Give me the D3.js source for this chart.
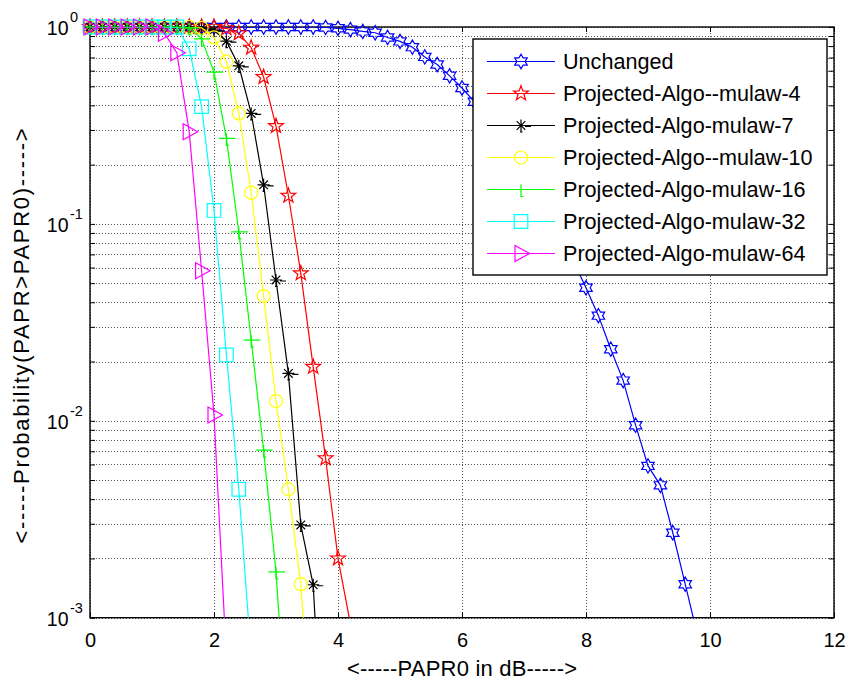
<!DOCTYPE html>
<html>
<head>
<meta charset="utf-8">
<script src="https://cdn.jsdelivr.net/npm/d3@7"></script>
<style>
  body { margin: 0; background: #fff; }
  svg { display: block; font-family: Arial, "Liberation Sans", sans-serif; }
</style>
</head>
<body>
<svg id="chart" width="850" height="680"></svg>
<script>
// PAPR0 sample points (dB)
const papr0 = [0, 0.2, 0.4, 0.6, 0.8, 1.0, 1.2, 1.4, 1.6, 1.8,
               2.0, 2.2, 2.4, 2.6, 2.8, 3.0, 3.2, 3.4, 3.6, 3.8,
               4.0, 4.2, 4.4, 4.6, 4.8, 5.0, 5.2, 5.4, 5.6, 5.8,
               6.0, 6.2, 6.4, 6.6, 6.8, 7.0, 7.2, 7.4, 7.6, 7.8,
               8.0, 8.2, 8.4, 8.6, 8.8, 9.0, 9.2, 9.4, 9.6, 9.8];

// CCDF of PAPR, one array per curve (values start at PAPR0 = 0)
const unchanged = [1, 1, 1, 1, 1, 1, 1, 1, 1, 1,
                   1, 1, 1, 1, 1, 1, 1, 1, 1, 0.995,
                   0.985, 0.97, 0.95, 0.935, 0.885, 0.845, 0.79, 0.705, 0.645, 0.565,
                   0.49, 0.417, 0.35, 0.288, 0.233, 0.185, 0.146, 0.113, 0.0855, 0.064,
                   0.0474, 0.0342, 0.0231, 0.016, 0.0095, 0.0059, 0.0047, 0.0027, 0.00148, 0.00081];
const mulaw4  = [1, 1, 1, 1, 1, 1, 1, 1, 1, 1,
                 1, 0.985, 0.929, 0.785, 0.557, 0.314, 0.139, 0.0561, 0.0188, 0.00645,
                 0.002, 0.00093];
const mulaw7  = [1, 1, 1, 1, 1, 1, 1, 1, 1, 0.99,
                 0.965, 0.847, 0.635, 0.364, 0.158, 0.0519, 0.0174, 0.00296, 0.00147, 0.000105];
const mulaw10 = [1, 1, 1, 1, 1, 1, 1, 1, 1, 0.99,
                 0.885, 0.667, 0.364, 0.144, 0.043, 0.0126, 0.00449, 0.00148, 0.00021];
const mulaw16 = [1, 1, 1, 1, 1, 1, 1, 1, 0.99, 0.87,
                 0.59, 0.272, 0.0912, 0.0257, 0.0071, 0.00171, 0.0002];
const mulaw32 = [1, 1, 1, 1, 1, 1, 1, 1, 0.775, 0.394,
                 0.117, 0.0216, 0.00449, 0.00063];
const mulaw64 = [1, 1, 1, 1, 1, 1, 0.93, 0.74, 0.294, 0.0578,
                 0.0107, 0.00062];

const seriesNames = ["Unchanged", "Projected-Algo--mulaw-4", "Projected-Algo-mulaw-7",
                     "Projected-Algo--mulaw-10", "Projected-Algo-mulaw-16",
                     "Projected-Algo-mulaw-32", "Projected-Algo-mulaw-64"];
const seriesValues = [unchanged, mulaw4, mulaw7, mulaw10, mulaw16, mulaw32, mulaw64];
const seriesColors = ["#0000ff", "#ff0000", "#000000", "#ffff00", "#00ff00", "#00ffff", "#ff00ff"];
const seriesMarkers = ["hexagram", "pentagram", "asterisk", "circle", "plus", "square", "triangleRight"];

const xTickValues = [0, 2, 4, 6, 8, 10, 12];
const yDecades = [1e-3, 1e-2, 1e-1, 1];
const yExponents = ["-3", "-2", "-1", "0"];

const xLabel = "<-----PAPR0 in dB----->";
const yLabel = "<-----Probability(PAPR>PAPR0)----->";

// ---- layout ----
const plot = { left: 90, right: 834, top: 27, bottom: 617.7 };

const svg = d3.select("#chart");
const x = d3.scaleLinear().domain([0, 12]).range([plot.left, plot.right]);
const y = d3.scaleLog().domain([1e-3, 1]).range([plot.bottom, plot.top]);

// minor + major positions on the log axis
const yAllTicks = [];
for (let d = 0; d < yDecades.length - 1; d++) {
  for (let k = 1; k <= 9; k++) yAllTicks.push(yDecades[d] * k);
}
yAllTicks.push(1);

// ---- grid ----
const grid = svg.append("g").attr("stroke", "#555").attr("stroke-width", 1)
  .attr("stroke-dasharray", "1,2").attr("fill", "none");
grid.selectAll("line.gy").data(yAllTicks).join("line")
  .attr("x1", plot.left).attr("x2", plot.right)
  .attr("y1", d => Math.round(y(d)) + 0.5).attr("y2", d => Math.round(y(d)) + 0.5);
grid.selectAll("line.gx").data(xTickValues).join("line")
  .attr("y1", plot.top).attr("y2", plot.bottom)
  .attr("x1", d => Math.round(x(d)) + 0.5).attr("x2", d => Math.round(x(d)) + 0.5);

// ---- axes box and ticks ----
const axisColor = "#000";
const tickLen = 5;
const xAxisBottom = d3.axisBottom(x).tickValues(xTickValues).tickSizeInner(-tickLen)
  .tickSizeOuter(0).tickPadding(15).tickFormat(d3.format("d"));
const gxb = svg.append("g").attr("transform", `translate(0,${plot.bottom})`).call(xAxisBottom);
gxb.select(".domain").remove();
gxb.selectAll("line").attr("stroke", axisColor);
gxb.selectAll("text").attr("font-size", 20).attr("fill", "#000")
  .attr("font-family", "Arial, 'Liberation Sans', sans-serif");

const xAxisTop = d3.axisTop(x).tickValues(xTickValues).tickSizeInner(-tickLen)
  .tickSizeOuter(0).tickFormat("");
const gxt = svg.append("g").attr("transform", `translate(0,${plot.top})`).call(xAxisTop);
gxt.select(".domain").remove();
gxt.selectAll("line").attr("stroke", axisColor);

const yAxisLeft = d3.axisLeft(y).tickValues(yAllTicks).tickSizeInner(-tickLen)
  .tickSizeOuter(0).tickFormat("");
const gyl = svg.append("g").attr("transform", `translate(${plot.left},0)`).call(yAxisLeft);
gyl.select(".domain").remove();
gyl.selectAll("line").attr("stroke", axisColor);

const yAxisRight = d3.axisRight(y).tickValues(yAllTicks).tickSizeInner(-tickLen)
  .tickSizeOuter(0).tickFormat("");
const gyr = svg.append("g").attr("transform", `translate(${plot.right},0)`).call(yAxisRight);
gyr.select(".domain").remove();
gyr.selectAll("line").attr("stroke", axisColor);

svg.append("rect")
  .attr("x", plot.left).attr("y", plot.top)
  .attr("width", plot.right - plot.left).attr("height", plot.bottom - plot.top)
  .attr("fill", "none").attr("stroke", axisColor).attr("stroke-width", 1.4);

// y tick labels: 10 with superscript exponent
const yLab = svg.append("g").attr("fill", "#000");
yDecades.forEach((v, i) => {
  const ty = y(v);
  yLab.append("text").attr("x", 68.5).attr("y", ty + 7.8)
    .attr("text-anchor", "end").attr("font-size", 19.5).text("10");
  yLab.append("text").attr("x", 70).attr("y", ty - 5.2)
    .attr("text-anchor", "start").attr("font-size", 14.5).text(yExponents[i]);
});

// axis titles
svg.append("text").attr("x", 462).attr("y", 676)
  .attr("text-anchor", "middle").attr("font-size", 22).attr("fill", "#000")
  .attr("textLength", 230).attr("lengthAdjust", "spacing").text(xLabel);
svg.append("text")
  .attr("transform", `translate(29,336) rotate(-90)`)
  .attr("text-anchor", "middle").attr("font-size", 22).attr("fill", "#000")
  .attr("textLength", 415).attr("lengthAdjust", "spacing").text(yLabel);

// ---- marker shapes ----
function starPath(points, R, r) {
  const pts = [];
  for (let i = 0; i < points * 2; i++) {
    const a = -Math.PI / 2 + i * Math.PI / points;
    const rad = i % 2 === 0 ? R : r;
    pts.push([rad * Math.cos(a), rad * Math.sin(a)]);
  }
  return "M" + pts.map(p => p[0].toFixed(2) + "," + p[1].toFixed(2)).join("L") + "Z";
}
const markerPaths = {
  hexagram: starPath(6, 7.2, 7.2 / Math.sqrt(3)),
  pentagram: starPath(5, 7.8, 7.8 * 0.4),
  asterisk: "M-6,0H6M0,-6V6M-4.3,-4.3L4.3,4.3M-4.3,4.3L4.3,-4.3M4,1H10M-1,6.5H1.5",
  circle: "M6.5,0A6.5,6.5 0 1,1 -6.5,0A6.5,6.5 0 1,1 6.5,0Z",
  plus: "M-7.5,0H9M0,-5V7.5M0,7H2.5",
  square: "M-6.8,-6.8H6.8V6.8H-6.8Z",
  triangleRight: "M-6,-8L8.5,0L-6,8Z"
};

// ---- curves ----
svg.append("clipPath").attr("id", "plotClip").append("rect")
  .attr("x", plot.left).attr("y", plot.top)
  .attr("width", plot.right - plot.left).attr("height", plot.bottom - plot.top);

const line = d3.line().x(d => x(d[0])).y(d => y(d[1]));

seriesValues.forEach((vals, i) => {
  const pts = vals.map((v, j) => [papr0[j], v]);
  const g = svg.append("g");
  g.append("path").datum(pts)
    .attr("d", line).attr("fill", "none")
    .attr("stroke", seriesColors[i]).attr("stroke-width", 1.2)
    .attr("clip-path", "url(#plotClip)");
  g.selectAll("path.m").data(pts.filter(p => p[1] >= 1e-3)).join("path")
    .attr("class", "m")
    .attr("transform", p => `translate(${x(p[0])},${y(p[1])})`)
    .attr("d", markerPaths[seriesMarkers[i]])
    .attr("fill", "none").attr("stroke", seriesColors[i]).attr("stroke-width", 1.2);
});

// ---- legend ----
const legend = { left: 473, top: 39, width: 354, height: 236, firstRow: 61.5, rowStep: 32 };
const lg = svg.append("g");
lg.append("rect").attr("x", legend.left).attr("y", legend.top)
  .attr("width", legend.width).attr("height", legend.height)
  .attr("fill", "#fff").attr("stroke", "#000").attr("stroke-width", 1.4);
seriesNames.forEach((name, i) => {
  const cy = legend.firstRow + i * legend.rowStep;
  lg.append("line").attr("x1", legend.left + 14).attr("x2", legend.left + 82)
    .attr("y1", cy).attr("y2", cy).attr("stroke", seriesColors[i]).attr("stroke-width", 1.2);
  lg.append("path").attr("transform", `translate(${legend.left + 48},${cy})`)
    .attr("d", markerPaths[seriesMarkers[i]]).attr("fill", "none")
    .attr("stroke", seriesColors[i]).attr("stroke-width", 1.2);
  lg.append("text").attr("x", legend.left + 90).attr("y", cy + 7.8)
    .attr("font-size", 21.6).attr("fill", "#000").text(name);
});
</script>
</body>
</html>
